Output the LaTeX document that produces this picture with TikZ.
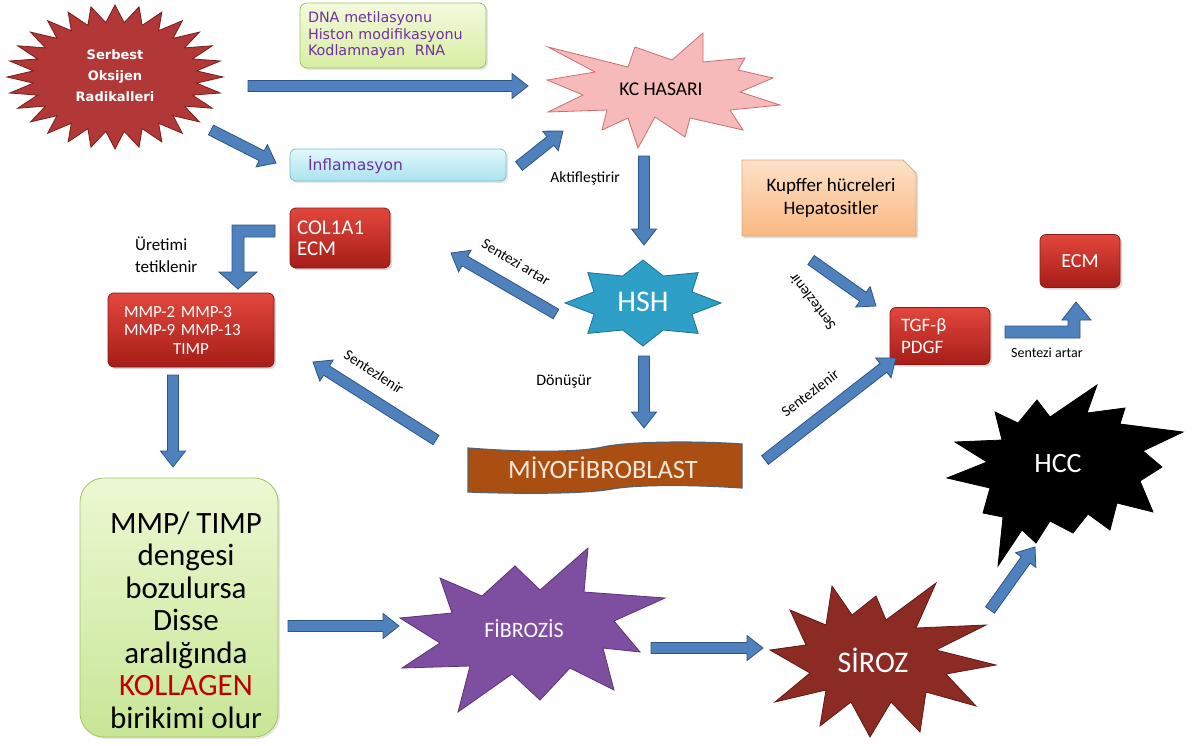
\documentclass[tikz,border=0pt]{standalone}
\usepackage{fontspec}
\setmainfont{Carlito}
\newfontfamily\dejavu{DejaVu Sans}
\usetikzlibrary{calc,shadows}
\definecolor{arrfill}{HTML}{4F81BD}
\definecolor{arrdraw}{HTML}{2F5487}
\definecolor{txtpurple}{HTML}{7030A0}
\definecolor{redtop}{HTML}{E2473D}
\definecolor{redbot}{HTML}{A61D17}
\definecolor{redline}{HTML}{8A1A15}
\definecolor{kolred}{HTML}{C00000}
\tikzset{
  blk/.style={fill=arrfill, draw=arrdraw, line width=0.8pt, line join=miter,
    to path={
      ($(\tikztostart)!5.5pt!90:(\tikztotarget)$) --
      ($(\tikztotarget)!16pt!(\tikztostart)!5.5pt!-90:(\tikztostart)$) --
      ($(\tikztotarget)!16pt!(\tikztostart)!12.5pt!-90:(\tikztostart)$) --
      (\tikztotarget) --
      ($(\tikztotarget)!16pt!(\tikztostart)!12.5pt!90:(\tikztostart)$) --
      ($(\tikztotarget)!16pt!(\tikztostart)!5.5pt!90:(\tikztostart)$) --
      ($(\tikztostart)!5.5pt!-90:(\tikztotarget)$) -- cycle
    }},
  elbow/.style={fill=arrfill, draw=arrdraw, line width=0.8pt, line join=miter},
  redbox/.style={rounded corners=6pt, top color=redtop, bottom color=redbot, draw=redline,
    line width=0.8pt, text=white, inner sep=0pt,
    drop shadow={opacity=0.3, shadow xshift=2pt, shadow yshift=-2pt}},
  lbl/.style={font=\fontsize{15}{16}\selectfont, inner sep=1pt},
  startxt/.style={text=white, inner sep=0pt},
}
\begin{document}
\begin{tikzpicture}[x=1pt,y=-1pt]
\useasboundingbox (0,0) rectangle (1192,745);
\fill[white] (0,0) rectangle (1192,745);

% ---------- Serbest Oksijen Radikalleri star
\draw[fill={rgb,255:red,178;green,56;blue,56}, draw={rgb,255:red,120;green,28;blue,28}, line width=0.8pt, line join=miter]
  (223,77)
  \foreach \i [evaluate=\i as \rr using {1-0.24*mod(\i,2)}, evaluate=\i as \aa using {\i*45/7}] in {1,...,55} {
    -- ({115+108*\rr*cos(\aa)},{77+72*\rr*sin(\aa)})
  } -- cycle;
\node[startxt, align=center, font=\dejavu\bfseries\fontsize{13}{21}\selectfont] (sor) at (115,76)
  {Serbest\\Oksijen\\Radikalleri};

% ---------- epigenetic box
\node[draw={rgb,255:red,160;green,196;blue,96}, line width=0.8pt, rounded corners=7pt,
  top color={rgb,255:red,244;green,250;blue,222}, bottom color={rgb,255:red,214;green,238;blue,160},
  minimum width=186pt, minimum height=65pt, text width=170pt, align=left, inner sep=0pt,
  text=txtpurple, font=\dejavu\fontsize{14.3}{16.5}\selectfont,
  drop shadow={opacity=0.2, shadow xshift=2pt, shadow yshift=-2pt}] (epi) at (393,35.5)
  {DNA metilasyonu\\Histon modifikasyonu\\Kodlamnayan\ \ RNA};

% ---------- Inflamasyon box
\node[draw={rgb,255:red,120;green,190;blue,205}, line width=0.8pt, rounded corners=6pt,
  top color={rgb,255:red,226;green,248;blue,252}, bottom color={rgb,255:red,170;green,226;blue,240},
  minimum width=216pt, minimum height=32pt, text width=180pt, align=left, inner sep=0pt,
  text=txtpurple, font=\dejavu\fontsize{15.5}{17}\selectfont,
  drop shadow={opacity=0.2, shadow xshift=2pt, shadow yshift=-2pt}] (inf) at (398,165)
  {İnflamasyon};

% ---------- KC HASARI
\draw[fill={rgb,255:red,247;green,186;blue,186}, draw={rgb,255:red,205;green,110;blue,110}, line width=0.8pt, line join=miter]
  (548,47) -- (595,72) -- (547,80) -- (583,95) -- (548,112) -- (607,110) -- (602,130) -- (628,118)
  -- (638,148) -- (655,117) -- (685,137) -- (690,118) -- (743,130) -- (730,110) -- (780,105)
  -- (740,92) -- (773,78) -- (738,70) -- (745,58) -- (703,62) -- (703,33) -- (672,60) -- (635,47)
  -- (628,67) -- cycle;
\node[font=\fontsize{19.5}{21}\selectfont] (kc) at (661,89) {KC HASARI};

% ---------- HSH star
\draw[fill={rgb,255:red,46;green,160;blue,200}, draw={rgb,255:red,30;green,110;blue,145}, line width=0.8pt, line join=miter]
  (721,303)
  \foreach \i [evaluate=\i as \rr using {1-0.32*mod(\i,2)}, evaluate=\i as \aa using {\i*22.5}] in {1,...,15} {
    -- ({643+78*\rr*cos(\aa)},{303+43*\rr*sin(\aa)})
  } -- cycle;
\node[startxt, font=\fontsize{30}{32}\selectfont] (hsh) at (643,302) {HSH};

% ---------- Kupffer box
\path[top color={rgb,255:red,253;green,226;blue,200}, bottom color={rgb,255:red,249;green,184;blue,130},
  draw={rgb,255:red,226;green,168;blue,110}, line width=0.8pt,
  drop shadow={opacity=0.25, shadow xshift=2pt, shadow yshift=-2pt}]
  (742,160) -- (903,160) -- (916,173) -- (916,236) -- (742,236) -- cycle;
\node[align=center, font=\fontsize{19}{23}\selectfont] (kup) at (831,198) {Kupffer hücreleri\\Hepatositler};

% ---------- red boxes
\node[redbox, minimum width=100pt, minimum height=60pt, text width=86pt, align=left,
  font=\fontsize{21}{21}\selectfont] (col) at (340,238) {COL1A1\\ECM};
\node[redbox, minimum width=166pt, minimum height=74pt, text width=134pt, align=left,
  font=\fontsize{17}{18.5}\selectfont] (mmp) at (191,330) {MMP-2 MMP-3\\MMP-9 MMP-13\\\hspace*{49pt}TIMP};
\node[redbox, minimum width=100pt, minimum height=57pt, text width=78pt, align=left,
  font=\fontsize{19}{22}\selectfont] (tgf) at (940,336) {TGF-β\\PDGF};
\node[redbox, minimum width=80pt, minimum height=53pt, font=\fontsize{20}{21}\selectfont] (ecm) at (1080,261) {ECM};

% ---------- MIYOFIBROBLAST banner
\draw[fill={rgb,255:red,170;green,78;blue,18}, draw={rgb,255:red,88;green,96;blue,108}, line width=1.2pt]
  (468,448) .. controls (520,452) and (575,453) .. (603,447) .. controls (630,441) and (700,441) .. (742,444)
  -- (742,488) .. controls (700,485) and (640,484) .. (612,489) .. controls (585,494) and (520,494) .. (468,492) -- cycle;
\node[text={rgb,255:red,253;green,233;blue,217}, font=\fontsize{26.5}{28}\selectfont] (miyo) at (603,468) {MİYOFİBROBLAST};

% ---------- big green box
\node[draw={rgb,255:red,160;green,196;blue,96}, line width=0.8pt, rounded corners=24pt,
  top color={rgb,255:red,236;green,248;blue,210}, bottom color={rgb,255:red,200;green,230;blue,150},
  minimum width=198pt, minimum height=259pt, inner sep=0pt,
  drop shadow={opacity=0.2, shadow xshift=2pt, shadow yshift=-2pt}] (kol) at (179,607.5)
  {};
\node[align=center, font=\fontsize{31}{32.5}\selectfont, inner sep=0pt] (koltxt) at (186,620)
  {MMP/ TIMP\\dengesi\\bozulursa\\Disse\\aralığında\\\textcolor{kolred}{KOLLAGEN}\\birikimi olur};

% ---------- FIBROZIS
\draw[fill={rgb,255:red,126;green,78;blue,160}, draw={rgb,255:red,90;green,52;blue,118}, line width=0.8pt, line join=miter]
  (400,618) -- (452,613) -- (440,578) -- (482,596) -- (515,566) -- (540,590) -- (588,548) -- (584,592)
  -- (665,598) -- (614,621) -- (640,652) -- (603,648) -- (614,690) -- (570,668) -- (540,700) -- (512,674)
  -- (458,712) -- (470,666) -- (402,668) -- (440,643) -- cycle;
\node[startxt, font=\fontsize{22}{24}\selectfont] (fib) at (524,629) {FİBROZİS};

% ---------- SIROZ
\draw[fill={rgb,255:red,140;green,42;blue,36}, draw={rgb,255:red,94;green,26;blue,22}, line width=0.8pt, line join=miter]
  (770,650) -- (806,645) -- (790,610) -- (826,625) -- (832,586) -- (852,615) -- (876,596) -- (886,620)
  -- (936,583) -- (916,628) -- (986,625) -- (936,650) -- (996,665) -- (946,674) -- (976,706) -- (926,692)
  -- (920,732) -- (891,702) -- (870,737) -- (851,702) -- (820,726) -- (826,690) -- (775,702) -- (810,673) -- cycle;
\node[startxt, font=\fontsize{30}{32}\selectfont] (sir) at (873,660) {SİROZ};

% ---------- HCC
\draw[fill=black, draw=black, line width=0.8pt, line join=miter]
  (995,412) -- (1018,423) -- (1037,400) -- (1050,417) -- (1097,385) -- (1087,413) -- (1125,408) -- (1120,424)
  -- (1183,432) -- (1143,451) -- (1162,467) -- (1140,481) -- (1153,512) -- (1117,503) -- (1110,530) -- (1088,514)
  -- (1073,533) -- (1050,521) -- (1036,543) -- (1022,530) -- (998,566) -- (1003,517) -- (983,513) -- (990,488)
  -- (947,478) -- (987,462) -- (955,442) -- (1002,440) -- cycle;
\node[startxt, font=\fontsize{28}{30}\selectfont] (hcc) at (1058,464) {HCC};

% ---------- connectors (block arrows)
\coordinate (a1s) at (248,86);  \coordinate (a1e) at (528,86);
\coordinate (a2s) at (211,130); \coordinate (a2e) at (276,163);
\coordinate (a3s) at (519,166); \coordinate (a3e) at (563,131);
\coordinate (a4s) at (644,156); \coordinate (a4e) at (644,245);
\coordinate (a5s) at (556,314); \coordinate (a5e) at (451,253);
\coordinate (a6s) at (644,356); \coordinate (a6e) at (644,428);
\coordinate (a7s) at (436,440); \coordinate (a7e) at (313,362);
\coordinate (a8s) at (765,460); \coordinate (a8e) at (896,358);
\coordinate (a9s) at (811,260); \coordinate (a9e) at (876,306);
\coordinate (a10s) at (173,375); \coordinate (a10e) at (173,467);
\coordinate (a11s) at (288,626); \coordinate (a11e) at (399,626);
\coordinate (a12s) at (651,648); \coordinate (a12e) at (763,648);
\coordinate (a13s) at (990,610); \coordinate (a13e) at (1035,547);

\path[blk] (a1s) to (a1e);
\path[blk] (a2s) to (a2e);
\path[blk] (a3s) to (a3e);
\path[blk] (a4s) to (a4e);
\path[blk] (a5s) to (a5e);
\path[blk] (a6s) to (a6e);
\path[blk] (a7s) to (a7e);
\path[blk] (a8s) to (a8e);
\path[blk] (a9s) to (a9e);
\path[blk] (a10s) to (a10e);
\path[blk] (a11s) to (a11e);
\path[blk] (a12s) to (a12e);
\path[blk] (a13s) to (a13e);

% elbow arrows
\path[elbow] (275,225) -- (232,225) -- (232,272) -- (219,272) -- (238,289) -- (257,272) -- (244,272) -- (244,237) -- (275,237) -- cycle;
\path[elbow] (1005,326) -- (1068,326) -- (1068,320) -- (1062,320) -- (1076,302) -- (1091,320) -- (1080,320) -- (1080,338) -- (1005,338) -- cycle;

% ---------- labels
\node[font=\fontsize{15.5}{18}\selectfont] (lakt) at (585,178) {Aktifleştirir};
\node[font=\fontsize{16}{18}\selectfont] (ldon) at (564,382) {Dönüşür};
\node[font=\fontsize{17}{22}\selectfont, align=left, anchor=west, inner sep=0pt] (luret) at (135,255) {Üretimi\\tetiklenir};
\node[lbl, rotate=-31] (lsa1) at (516,262) {Sentezi artar};
\node[lbl, rotate=-33] (lsz1) at (374,372) {Sentezlenir};
\node[lbl, rotate=37] (lsz2) at (810,393) {Sentezlenir};
\node[lbl, rotate=127] (lsz3) at (812,302) {Sentezlenir};
\node[font=\fontsize{14}{15}\selectfont, inner sep=1pt] (lsa2) at (1047,353) {Sentezi artar};
\end{tikzpicture}
\end{document}
